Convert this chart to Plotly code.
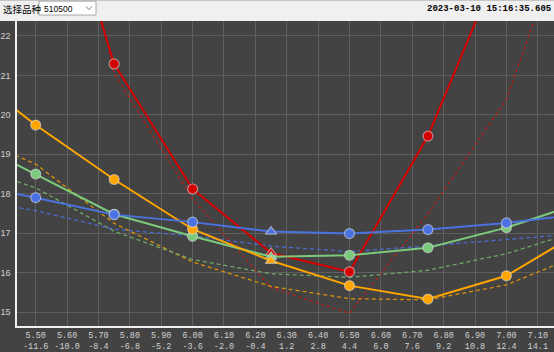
import plotly.graph_objects as go

# ---- data ----
strikes = [5.25, 5.50, 5.75, 6.00, 6.25, 6.50, 6.75, 7.00, 7.25]

red_solid = [32.0, 27.8, 21.29, 18.12, 16.50, 16.02, 19.46, 24.40, 29.0]
red_dash = [36.0, 29.5, 21.05, 17.87, 15.62, 14.97, 17.49, 20.39, 26.06]
orange_solid = [21.30, 19.74, 18.36, 17.10, 16.30, 15.67, 15.33, 15.92, 17.10]
orange_dash = [19.60, 18.75, 17.25, 16.27, 15.65, 15.34, 15.31, 15.69, 16.50]
green_solid = [19.50, 18.50, 17.48, 16.92, 16.40, 16.44, 16.63, 17.14, 17.80]
green_dash = [18.80, 18.15, 17.05, 16.33, 15.97, 15.88, 16.06, 16.48, 17.10]
blue_solid = [18.30, 17.90, 17.47, 17.28, 17.04, 16.99, 17.09, 17.26, 17.50]
blue_dash = [17.90, 17.57, 17.10, 16.93, 16.67, 16.53, 16.68, 16.84, 17.00]

tick_strikes = [5.5, 5.6, 5.7, 5.8, 5.9, 6.0, 6.1, 6.2, 6.3, 6.4, 6.5, 6.6, 6.7, 6.8, 6.9, 7.0, 7.1]
tick_strike_text = ["5.50", "5.60", "5.70", "5.80", "5.90", "6.00", "6.10", "6.20", "6.30",
                    "6.40", "6.50", "6.60", "6.70", "6.80", "6.90", "7.00", "7.10"]
tick_pct_text = ["-11.6", "-10.0", "-8.4", "-6.8", "-5.2", "-3.6", "-2.0", "-0.4", "1.2",
                 "2.8", "4.4", "6.0", "7.6", "9.2", "10.8", "12.4", "14.1"]
y_ticks = [15, 16, 17, 18, 19, 20, 21, 22]
atm_strike = 6.25
product = "510500"
timestamp = "2023-03-10 15:16:35.605"

# ---- figure ----
W, H = 554, 352
ML, MR, MT, MB = 17, 0, 21, 24
PW, PH = W - ML - MR, H - MT - MB


def px(x):
    return (x - ML) / PW


def py(y):
    return (H - MB - y) / PH


symbols = ["triangle-up" if s == atm_strike else "circle" for s in strikes]

fig = go.Figure()

dash_series = [
    (red_dash, "#c01a1a", "3px,3px", 1.2),
    (orange_dash, "#d8900a", "4px,3px", 1.3),
    (green_dash, "#6fa866", "4px,3px", 1.3),
    (blue_dash, "#4a6ad0", "4px,3px", 1.3),
]
for vals, col, dash, w in dash_series:
    fig.add_trace(go.Scatter(x=strikes, y=vals, mode="lines",
                             line=dict(color=col, width=w, dash=dash),
                             hoverinfo="skip", showlegend=False))

solid_series = [
    (red_solid, "#d40000"),
    (green_solid, "#7cc87c"),
    (orange_solid, "#ffa500"),
    (blue_solid, "#4a72e0"),
]
for vals, col in solid_series:
    fig.add_trace(go.Scatter(x=strikes, y=vals, mode="lines+markers",
                             line=dict(color=col, width=2),
                             marker=dict(size=10, color=col, symbol=symbols,
                                         line=dict(color="rgba(225,225,225,0.55)", width=1.2)),
                             hoverinfo="skip", showlegend=False))

bg = "#434343"
grid = "#5f5f5f"
fig.update_layout(
    width=W, height=H,
    margin=dict(l=ML, r=MR, t=MT, b=MB, pad=0),
    paper_bgcolor=bg, plot_bgcolor=bg,
    showlegend=False,
    font=dict(family="Liberation Mono", size=8.5, color="#d8d8d8"),
    xaxis=dict(range=[5.4404, 7.1517], tickmode="array", tickvals=tick_strikes,
               ticktext=[f"{a}<br>{b}" for a, b in zip(tick_strike_text, tick_pct_text)],
               showgrid=True, gridcolor=grid, gridwidth=1, zeroline=False,
               showline=True, linecolor="#f0f0f0", linewidth=1.5, ticks="",
               tickfont=dict(family="Liberation Mono", size=8.5, color="#d0d0d0")),
    yaxis=dict(range=[14.647, 22.378], tickmode="array", tickvals=y_ticks,
               showgrid=True, gridcolor=grid, gridwidth=1, zeroline=False,
               showline=True, linecolor="#f0f0f0", linewidth=1.5, ticks="",
               ticklabelstandoff=3,
               tickfont=dict(family="Liberation Sans", size=9, color="#d0d0d0")),
)

shapes = [
    dict(type="rect", xref="paper", yref="paper", x0=px(0), x1=px(W), y0=py(MT), y1=py(0),
         fillcolor="#f0f0f0", line=dict(width=0), layer="above"),
    dict(type="rect", xref="paper", yref="paper", x0=px(39), x1=px(96), y0=py(15), y1=py(1),
         fillcolor="#ffffff", line=dict(color="#a8a8a8", width=1), layer="above"),
    dict(type="path", xref="paper", yref="paper",
         path=f"M {px(86)},{py(6.5)} L {px(89)},{py(9.5)} L {px(92)},{py(6.5)}",
         line=dict(color="#7a7a7a", width=1), layer="above"),
]
fig.update_layout(shapes=shapes)

fig.add_annotation(xref="paper", yref="paper", x=px(1), y=py(8.5), xanchor="left", yanchor="middle",
                   text="选择品种", showarrow=False,
                   font=dict(family="Noto Sans CJK SC", size=9.5, color="#000000"))
fig.add_annotation(xref="paper", yref="paper", x=px(41.5), y=py(8.5), xanchor="left", yanchor="middle",
                   text=product, showarrow=False,
                   font=dict(family="Liberation Sans", size=8.5, color="#000000"))
fig.add_annotation(xref="paper", yref="paper", x=px(553), y=py(8.5), xanchor="right", yanchor="middle",
                   text=f"<b>{timestamp}</b>", showarrow=False,
                   font=dict(family="Liberation Mono", size=9, color="#000000"))

fig.write_html("out.html")
